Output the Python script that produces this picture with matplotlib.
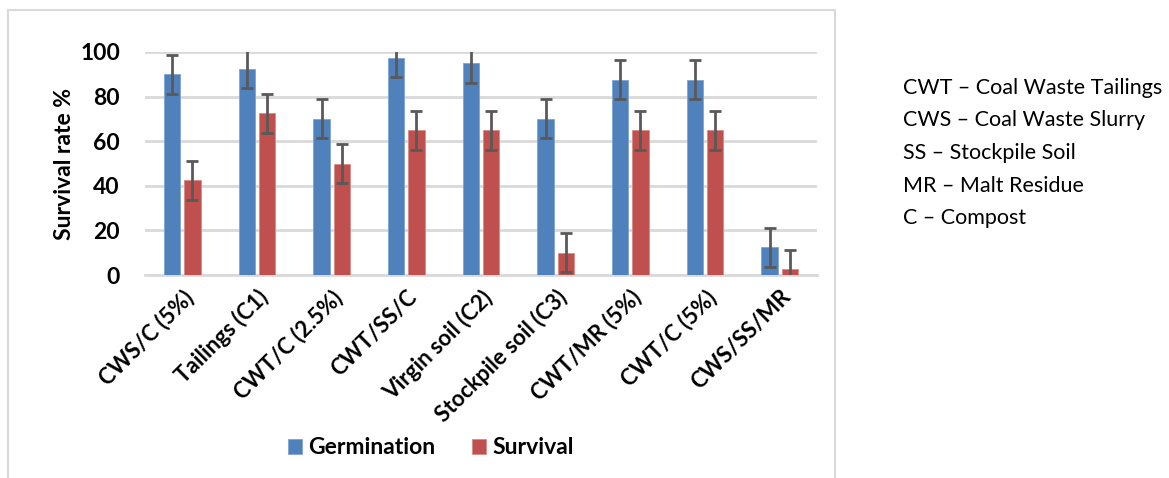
import matplotlib.pyplot as plt
import numpy as np
from matplotlib.patches import Rectangle

plt.rcParams['font.family'] = ['Lato', 'DejaVu Sans']

CATEGORIES = ['CWS/C (5%)', 'Tailings (C1)', 'CWT/C (2.5%)', 'CWT/SS/C',
              'Virgin soil (C2)', 'Stockpile soil (C3)', 'CWT/MR (5%)',
              'CWT/C (5%)', 'CWS/SS/MR']
GERMINATION = [90, 92.5, 70, 97.5, 95, 70, 87.5, 87.5, 12.5]
SURVIVAL = [42.5, 72.5, 50, 65, 65, 10, 65, 65, 2.5]
GERM_ERR = [8.75] * 9
SURV_ERR = [8.75] * 9
Y_TICKS = [0, 20, 40, 60, 80, 100]
NOTES = ['CWT \u2013 Coal Waste Tailings', 'CWS \u2013 Coal Waste Slurry',
         'SS \u2013 Stockpile Soil', 'MR \u2013 Malt Residue', 'C \u2013 Compost']

BLUE = '#4F81BD'
RED = '#C0504D'
ERR = '#595959'
GRID = '#D9D9D9'

fig = plt.figure(figsize=(11.69, 4.78), dpi=100)
ax = fig.add_axes([145 / 1169, 1 - 275 / 478, 672 / 1169, 223 / 478])

x = np.arange(len(CATEGORIES))
w = 0.22
off = 0.135
err_kw = dict(ecolor=ERR, elinewidth=2, capsize=4, capthick=2)
ax.bar(x - off, GERMINATION, w, color=BLUE, edgecolor='#7FA3D0', linewidth=0.6,
       yerr=GERM_ERR, error_kw=err_kw, label='Germination', zorder=3)
ax.bar(x + off, SURVIVAL, w, color=RED, edgecolor='#D88A88', linewidth=0.6,
       yerr=SURV_ERR, error_kw=err_kw, label='Survival', zorder=3)

ax.set_xlim(-0.5, len(CATEGORIES) - 0.5)
ax.set_ylim(0, 100)
ax.set_yticks(Y_TICKS)
ax.set_yticklabels([str(t) for t in Y_TICKS], fontsize=16.5, fontweight='bold')
ax.yaxis.grid(True, color=GRID, linewidth=2, zorder=0)
ax.set_axisbelow(True)
for s in ['top', 'right', 'left']:
    ax.spines[s].set_visible(False)
ax.spines['bottom'].set_color(GRID)
ax.spines['bottom'].set_linewidth(2)
ax.tick_params(axis='both', length=0)
ax.tick_params(axis='y', pad=18)
ax.set_xticks(x)
ax.set_xticklabels(CATEGORIES, rotation=45, ha='right', va='top',
                   rotation_mode='anchor', fontsize=16, fontweight='bold')
ax.tick_params(axis='x', pad=8)
ax.set_ylabel('Survival rate %', fontsize=16.5, fontweight='bold', labelpad=4)

fig.legend(loc='center', bbox_to_anchor=(431 / 1169, 1 - 448 / 478), ncol=2,
           frameon=False, prop={'size': 16.5, 'weight': 'bold'},
           handlelength=0.6, handleheight=0.6, columnspacing=1.6, handletextpad=0.3)

fig.patches.append(Rectangle((8 / 1169, -0.1), 827 / 1169, 1.1 - 10 / 478,
                             transform=fig.transFigure, fill=False,
                             edgecolor=GRID, linewidth=1.5))

for i, note in enumerate(NOTES):
    fig.text(903 / 1169, 1 - (88 + i * 32.5) / 478, note, fontsize=15.5,
             va='center', ha='left')

fig.savefig('out.png', dpi=100)
